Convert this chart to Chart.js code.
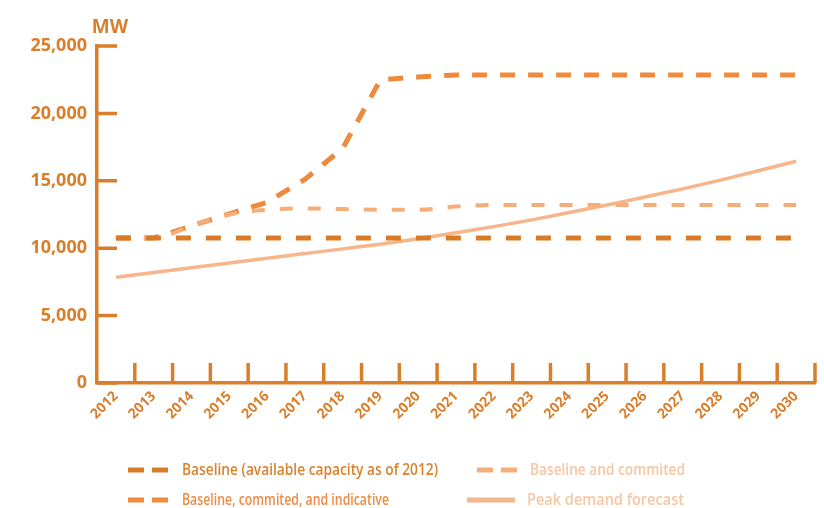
<!DOCTYPE html>
<html>
<head>
<meta charset="utf-8">
<title>Generation capacity and peak demand, 2012-2030</title>
<script src="https://cdn.jsdelivr.net/npm/chart.js@4.4.1/dist/chart.umd.min.js"></script>
<style>
    html, body { margin: 0; padding: 0; background: #fff; }
    #wrap { width: 824px; height: 508px; }
</style>
</head>
<body>
<div id="wrap"><canvas id="capacityChart" width="824" height="508"></canvas></div>
<script>
// ===== DATA (MW) =====
const years = ['2012', '2013', '2014', '2015', '2016', '2017', '2018', '2019', '2020', '2021',
               '2022', '2023', '2024', '2025', '2026', '2027', '2028', '2029', '2030'];
const baseline   = [10750, 10750, 10750, 10750, 10750, 10750, 10750, 10750, 10750, 10750,
                    10750, 10750, 10750, 10750, 10750, 10750, 10750, 10750, 10750];
const committed  = [10750, 10750, 11650, 12500, 12850, 12950, 12900, 12850, 12850, 13100,
                    13200, 13200, 13200, 13200, 13200, 13200, 13200, 13200, 13200];
const indicative = [10750, 10750, 11650, 12550, 13400, 15100, 17400, 22500, 22700, 22850,
                    22850, 22850, 22850, 22850, 22850, 22850, 22850, 22850, 22850];
const peakDemand = [7850, 8200, 8550, 8900, 9250, 9600, 9950, 10300, 10700, 11150,
                    11600, 12100, 12650, 13200, 13800, 14400, 15050, 15750, 16450];
const yTicks = [0, 5000, 10000, 15000, 20000, 25000];

const AXIS = '#d97e2a';

// Inward tick marks on both axes plus the unit label
const axisTicks = {
    id: 'axisTicks',
    afterDraw(chart) {
        const { ctx, chartArea, scales: { x, y } } = chart;
        ctx.save();
        ctx.strokeStyle = AXIS;
        ctx.lineWidth = 3.5;
        ctx.beginPath();
        y.ticks.forEach(t => {
            const py = y.getPixelForValue(t.value);
            ctx.moveTo(chartArea.left, py);
            ctx.lineTo(chartArea.left + 20, py);
        });
        const half = (x.getPixelForValue(1) - x.getPixelForValue(0)) / 2;
        years.forEach((yr, i) => {
            const px = x.getPixelForValue(i) + half;
            ctx.moveTo(px, chartArea.bottom);
            ctx.lineTo(px, chartArea.bottom - 20);
        });
        ctx.stroke();

        ctx.fillStyle = AXIS;
        ctx.font = 'bold 19px "Open Sans"';
        ctx.textAlign = 'center';
        ctx.textBaseline = 'alphabetic';
        ctx.fillText('MW', chartArea.left + 13, 33);
        ctx.restore();
    }
};

// Two-column legend under the axis
const legendSlots = [
    { x: 128, y: 470, w: 42, maxText: 256 },
    { x: 477, y: 470, w: 41, maxText: 155 },
    { x: 128, y: 500, w: 42, maxText: 207 },
    { x: 467, y: 500, w: 48, maxText: 157 }
];

const gridLegend = {
    id: 'gridLegend',
    afterDraw(chart) {
        const { ctx } = chart;
        ctx.save();
        chart.data.datasets.forEach((ds, i) => {
            const slot = legendSlots[i];
            ctx.strokeStyle = ds.borderColor;
            ctx.lineWidth = 5;
            ctx.setLineDash(ds.borderDash ? [16, 8] : []);
            ctx.beginPath();
            ctx.moveTo(slot.x, slot.y);
            ctx.lineTo(slot.x + slot.w, slot.y);
            ctx.stroke();

            ctx.fillStyle = ds.legendColor;
            ctx.font = '600 17px "Liberation Sans Narrow", "Open Sans"';
            ctx.textAlign = 'left';
            ctx.textBaseline = 'middle';
            ctx.fillText(ds.label, slot.x + slot.w + 12, slot.y, slot.maxText);
        });
        ctx.restore();
    }
};

new Chart(document.getElementById('capacityChart'), {
    type: 'line',
    data: {
        labels: years,
        datasets: [
            {
                label: 'Baseline (available capacity as of 2012)',
                data: baseline,
                borderColor: '#d97a26',
                borderWidth: 5,
                borderDash: [15, 15],
                legendColor: '#d9822e'
            },
            {
                label: 'Baseline and commited',
                data: committed,
                borderColor: '#f5ae78',
                borderWidth: 4,
                borderDash: [13, 15],
                legendColor: '#f7c6a2'
            },
            {
                label: 'Baseline, commited, and indicative',
                data: indicative,
                borderColor: '#ee8a3e',
                borderWidth: 5,
                borderDash: [15, 13],
                cubicInterpolationMode: 'default',
                tension: 0,
                legendColor: '#ee8c45'
            },
            {
                label: 'Peak demand forecast',
                data: peakDemand,
                borderColor: '#f6b58a',
                borderWidth: 3.5,
                legendColor: '#f7c6a2'
            }
        ]
    },
    options: {
        responsive: false,
        animation: false,
        layout: { padding: { top: 46, right: 9, left: 0, bottom: 0 } },
        elements: {
            point: { radius: 0 },
            line: { cubicInterpolationMode: 'monotone', fill: false }
        },
        plugins: {
            legend: { display: false },
            tooltip: { enabled: false }
        },
        scales: {
            x: {
                type: 'category',
                offset: true,
                grid: { display: false, drawTicks: false },
                border: { display: true, color: AXIS, width: 3.5 },
                ticks: {
                    color: AXIS,
                    autoSkip: false,
                    minRotation: 45,
                    maxRotation: 45,
                    padding: 5,
                    font: { family: 'Open Sans', weight: 'bold', size: 14 }
                },
                afterFit: s => { s.height = 125; }
            },
            y: {
                min: 0,
                max: 25000,
                grid: { display: false, drawTicks: false },
                border: { display: true, color: AXIS, width: 3.5 },
                afterBuildTicks: s => { s.ticks = yTicks.map(v => ({ value: v })); },
                ticks: {
                    color: AXIS,
                    padding: 10,
                    font: { family: 'Open Sans', weight: 'bold', size: 18 },
                    callback: v => v.toLocaleString('en-US')
                },
                afterFit: s => { s.width = 97; }
            }
        }
    },
    plugins: [axisTicks, gridLegend]
});
</script>
</body>
</html>
